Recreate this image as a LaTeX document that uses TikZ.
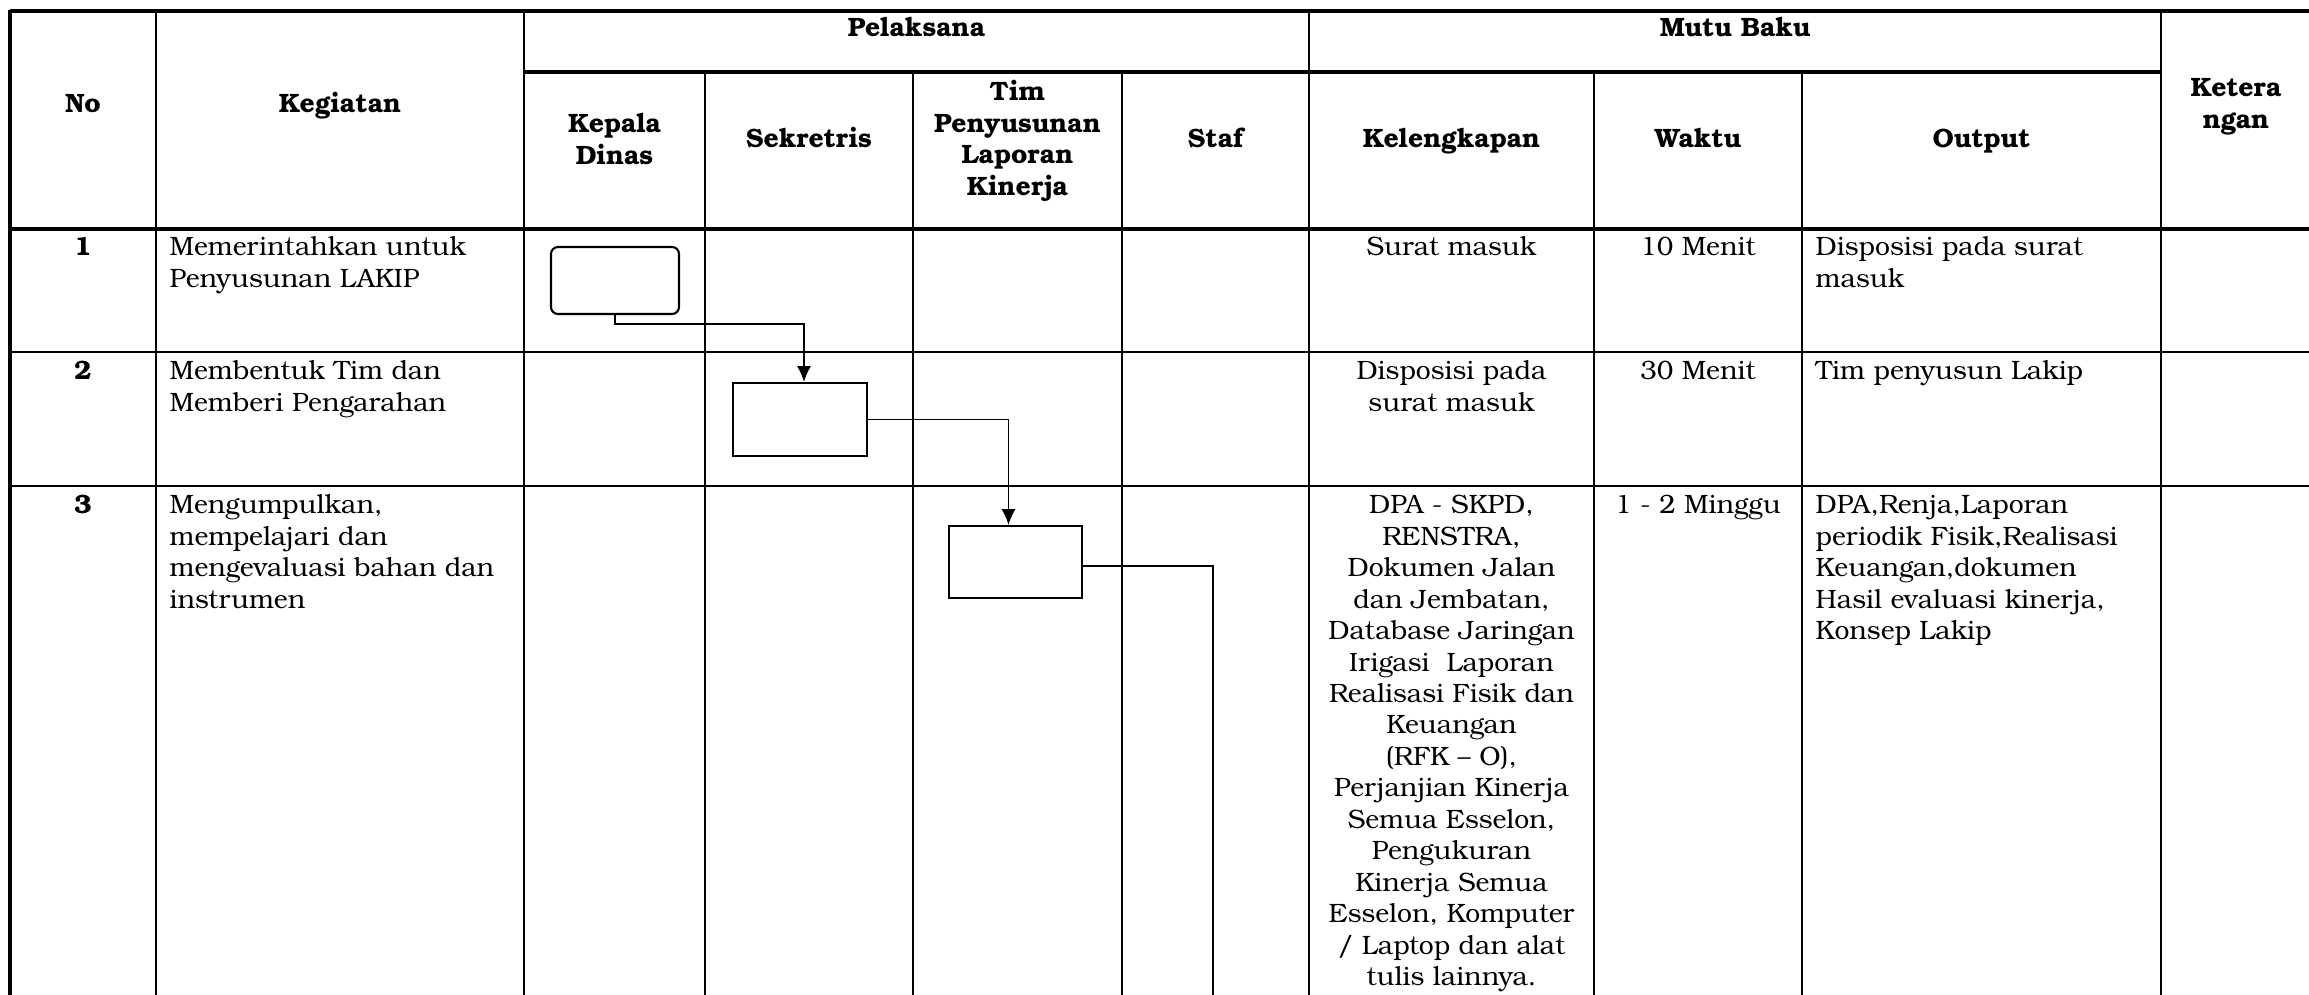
\documentclass[tikz,border=0pt]{standalone}
\usepackage{fontspec}
\setmainfont{TeX Gyre Bonum}
\usetikzlibrary{arrows.meta}

\begin{document}
\begin{tikzpicture}[x=0.1mm,y=-0.1mm,
  thick line/.style={line width=1pt},
  thin line/.style={line width=0.57pt},
  head/.style={font=\fontsize{7.55}{8.95}\selectfont\bfseries,inner sep=0pt,align=center},
  body/.style={font=\fontsize{7.55}{8.95}\selectfont,inner sep=0pt},
  process/.style={draw,line width=0.6pt,fill=white,inner sep=0pt},
  flow/.style={line width=0.45pt,-{Latex[length=4.5pt,width=4pt]}}]

  \useasboundingbox (0,0) rectangle (2309,995);
  \clip (0,0) rectangle (2309,995);

  % table lines
  \draw[thick line] (10,11) -- (2309,11);
  \draw[thick line] (524,72) -- (2161,72);
  \draw[thick line] (10,229) -- (2309,229);
  \draw[thin line] (10,352) -- (2309,352);
  \draw[thin line] (10,486) -- (2309,486);
  \draw[thick line] (10,10) -- (10,995);
  \foreach \x in {156,524,1309,2161}
    \draw[thin line] (\x,11) -- (\x,995);
  \foreach \x in {705,913,1122,1594,1802}
    \draw[thin line] (\x,72) -- (\x,995);

  % header
  \node[head,anchor=base] (HdNo) at (83,113) {No};
  \node[head,anchor=base] (HdKeg) at (340,113) {Kegiatan};
  \node[head,anchor=base] (HdPel) at (916.5,37) {Pelaksana};
  \node[head,anchor=base] (HdMutu) at (1735,37) {Mutu Baku};
  \node[head,anchor=north] (HdKep) at (614.5,110) {\strut Kepala\\Dinas};
  \node[head,anchor=base] (HdSek) at (809,147) {Sekretris};
  \node[head,anchor=north] (HdTim) at (1017.5,78) {\strut Tim\\Penyusunan\\Laporan\\Kinerja};
  \node[head,anchor=base] (HdStaf) at (1215.5,147) {Staf};
  \node[head,anchor=base] (HdKel) at (1451.5,147) {Kelengkapan};
  \node[head,anchor=base] (HdWak) at (1698,147) {Waktu};
  \node[head,anchor=base] (HdOut) at (1981.5,147) {Output};
  \node[head,anchor=north] (HdKet) at (2236,74) {\strut Ketera\\ngan};

  % row 1
  \node[body,anchor=base] (No1) at (83,255) {\textbf{1}};
  \node[body,anchor=north west,align=left] (Keg1) at (169,233) {\strut Memerintahkan untuk\\Penyusunan LAKIP};
  \node[body,anchor=base] (Kel1) at (1451.5,255) {Surat masuk};
  \node[body,anchor=base] (Wak1) at (1698,255) {10 Menit};
  \node[body,anchor=north west,align=left] (Out1) at (1815,233) {\strut Disposisi pada surat\\masuk};

  % row 2
  \node[body,anchor=base] (No2) at (83,379) {\textbf{2}};
  \node[body,anchor=north west,align=left] (Keg2) at (169,357) {\strut Membentuk Tim dan\\Memberi Pengarahan};
  \node[body,anchor=north,align=center] (Kel2) at (1451.5,357) {\strut Disposisi pada\\surat masuk};
  \node[body,anchor=base] (Wak2) at (1698,379) {30 Menit};
  \node[body,anchor=base west] (Out2) at (1815,379) {Tim penyusun Lakip};

  % row 3
  \node[body,anchor=base] (No3) at (83,513) {\textbf{3}};
  \node[body,anchor=north west,align=left] (Keg3) at (169,491) {\strut Mengumpulkan,\\mempelajari dan\\mengevaluasi bahan dan\\instrumen};
  \node[body,anchor=north,align=center] (Kel3) at (1451.5,491) {\strut DPA - SKPD,\\RENSTRA,\\Dokumen Jalan\\dan Jembatan,\\Database Jaringan\\Irigasi~ Laporan\\Realisasi Fisik dan\\Keuangan\\(RFK -- O),\\Perjanjian Kinerja\\Semua Esselon,\\Pengukuran\\Kinerja Semua\\Esselon, Komputer\\/ Laptop dan alat\\tulis lainnya.};
  \node[body,anchor=base] (Wak3) at (1698,513) {1 - 2 Minggu};
  \node[body,anchor=north west,align=left] (Out3) at (1815,491) {\strut DPA,Renja,Laporan\\periodik Fisik,Realisasi\\Keuangan,dokumen\\Hasil evaluasi kinerja,\\Konsep Lakip};

  % flow boxes
  \node[process,rounded corners=2pt,minimum width=12.8mm,minimum height=6.7mm] (Mulai) at (615,280.5) {};
  \node[process,minimum width=13.4mm,minimum height=7.3mm] (Bentuk) at (800,419.5) {};
  \node[process,minimum width=13.3mm,minimum height=7.2mm] (Kumpul) at (1015.5,562) {};
  \coordinate (Lanjut) at (1213,995);

  \draw[flow] (Mulai.south) -- ++(0,9) -| ([xshift=0.4mm]Bentuk.north);
  \draw[flow] (Bentuk.east) -| ([xshift=-0.7mm]Kumpul.north);
  \draw[line width=0.45pt] ([yshift=-0.4mm]Kumpul.east) -| (Lanjut);
\end{tikzpicture}
\end{document}
